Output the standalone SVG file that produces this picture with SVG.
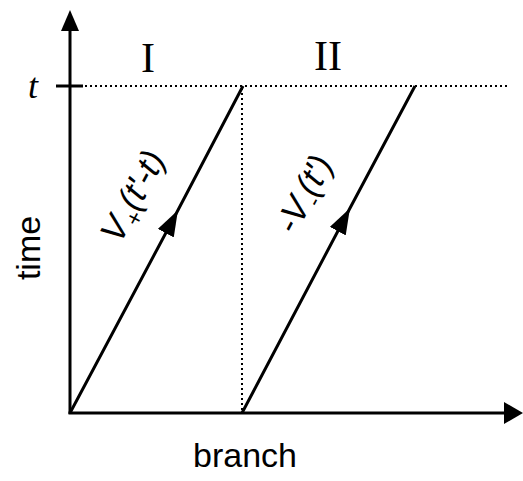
<svg xmlns="http://www.w3.org/2000/svg" width="523" height="481" viewBox="0 0 523 481">
<style>
.ax{stroke:#000;stroke-width:3;fill:none}
.ln{stroke:#000;stroke-width:3;fill:none;marker-mid:url(#ah)}
.dot{stroke:#000;stroke-width:2;stroke-dasharray:2 3;fill:none}
.lab{font-family:"Liberation Sans",Arial,sans-serif;font-size:34px;fill:#000}
.rom{font-family:"Liberation Serif","Times New Roman",serif;font-size:42px;fill:#000}
.it{font-family:"Liberation Sans",Arial,sans-serif;font-style:italic;font-size:35px;fill:#000}
</style>
<defs>
<marker id="ah" viewBox="0 0 26 18" refX="24" refY="9" markerUnits="userSpaceOnUse" markerWidth="26" markerHeight="18" orient="auto">
<path d="M0,0 L26,9 L0,18 z" fill="#000"/>
</marker>
</defs>
<g id="axes">
<line class="ax" x1="70" y1="414" x2="70" y2="28"/>
<polygon points="70,10 61,31 79,31" fill="#000"/>
<line class="ax" x1="68.5" y1="413" x2="507" y2="413"/>
<polygon points="523,413 504,402 504,424" fill="#000"/>
<line class="ax" x1="56" y1="86" x2="83" y2="86"/>
</g>
<g id="guides">
<line class="dot" x1="85" y1="86" x2="510" y2="86"/>
<line class="dot" x1="242" y1="88" x2="242" y2="411"/>
</g>
<g id="connectors">
<path id="path-I" class="ln" d="M70,413 L177,212 L243,86"/>
<path id="path-II" class="ln" d="M242,413 L349,210 L415,86"/>
</g>
<g id="labels">
<text class="rom" x="148" y="72" text-anchor="middle">I</text>
<text class="rom" x="328" y="70" text-anchor="middle">II</text>
<text x="33" y="98" text-anchor="middle" font-family="Liberation Serif,'Times New Roman',serif" font-style="italic" font-size="36">t</text>
<text class="lab" x="0" y="0" text-anchor="middle" transform="translate(40,248) rotate(-90)">time</text>
<text class="lab" x="245" y="467" text-anchor="middle">branch</text>
<text class="it" transform="translate(120,245) rotate(-62)">V<tspan font-size="23" dy="8">+</tspan><tspan dy="-8">(t'-t)</tspan></text>
<text class="it" transform="translate(295,236) rotate(-62)">-V<tspan font-size="23" dy="8">-</tspan><tspan dy="-8">(t')</tspan></text>
</g>
</svg>
